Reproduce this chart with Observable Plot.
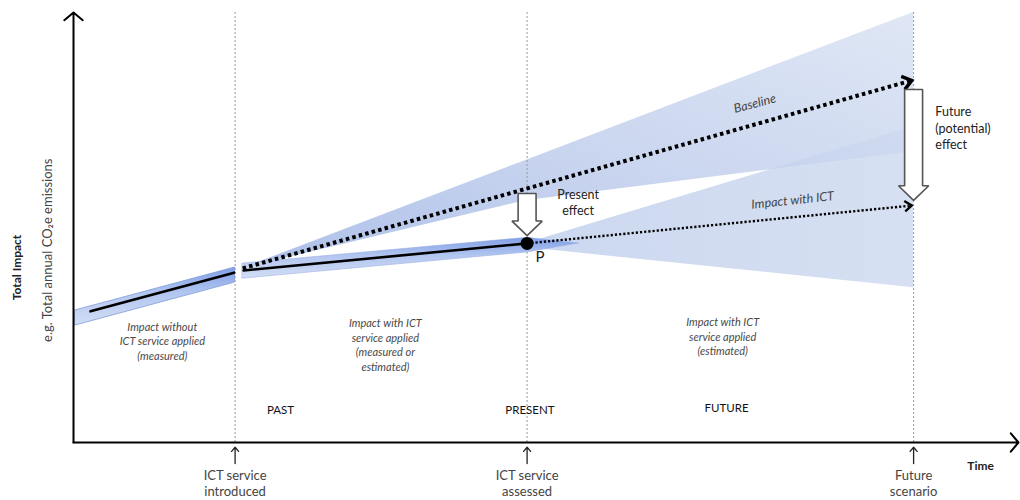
<!DOCTYPE html>
<html>
<head>
<meta charset="utf-8">
<script src="https://cdn.jsdelivr.net/npm/d3@7"></script>
<script src="https://cdn.jsdelivr.net/npm/@observablehq/plot@0.6"></script>
<style>
  html, body { margin: 0; padding: 0; background: #fff; }
  #chart svg { display: block; overflow: visible; }
</style>
</head>
<body>
<div id="chart"></div>
<script>
// ---- data (abstract units: time 0..100, impact 0..100) ----
const bandPast = [
  {t: 0.2, lo: 27.2, hi: 30.7},
  {t: 17.1, lo: 37.2, hi: 40.7}
];
const measuredPast = [
  {t: 1.8, v: 30.5},
  {t: 17.0, v: 39.5}
];
const bandPresent = [
  {t: 17.9, lo: 38.1, hi: 41.6},
  {t: 48.0, lo: 44.2, hi: 47.6},
  {t: 53.5, lo: 46.3, hi: 46.3}
];
const measuredPresent = [
  {t: 18.0, v: 40.0},
  {t: 48.0, v: 46.3}
];
const baselineCone = [
  {t: 17.9, lo: 40.5, hi: 40.5},
  {t: 48.0, lo: 56.3, hi: 65.7},
  {t: 74.8, lo: 63.7, hi: 88.2},
  {t: 88.9, lo: 67.7, hi: 100}
];
const ictCone = [
  {t: 48.9, lo: 45.1, hi: 47.0},
  {t: 88.9, lo: 36.0, hi: 73.5}
];
const baseline = [
  {t: 17.9, v: 40.5},
  {t: 88.7, v: 84.2}
];
const withICT = [
  {t: 48.0, v: 46.3},
  {t: 88.7, v: 55.1}
];
const pointP = [{t: 48.0, v: 46.3, label: "P"}];
const milestones = [
  {t: 17.1, label: "ICT service\nintroduced"},
  {t: 48.0, label: "ICT service\nassessed"},
  {t: 88.9, label: "Future\nscenario"}
];
const periods = [
  {t: 21.9, v: 7.4, label: "PAST"},
  {t: 48.3, v: 7.4, label: "PRESENT"},
  {t: 69.1, v: 7.9, label: "FUTURE"}
];
const notes = [
  {t: 9.4, v: 23.7, label: "Impact without\nICT service applied\n(measured)"},
  {t: 33.0, v: 22.8, label: "Impact with ICT\nservice applied\n(measured or\nestimated)"},
  {t: 68.7, v: 24.8, label: "Impact with ICT\nservice applied\n(estimated)"}
];
const effects = [
  {t: 48.0, from: 57.9, to: 48.1},
  {t: 88.9, from: 82.1, to: 56.3}
];
const effectLabels = [
  {t: 53.4, v: 56.0, label: "Present\neffect", anchor: "middle"},
  {t: 91.2, v: 73.3, label: "Future\n(potential)\neffect", anchor: "start"}
];
const lineLabels = [
  {t: 72.1, v: 78.8, label: "Baseline", angle: -15},
  {t: 76.1, v: 56.3, label: "Impact with ICT", angle: -6}
];

// ---- layout ----
const W = 1020, H = 500, ML = 73, MR = 2, MT = 12, MB = 58;
const pxX = (W - ML - MR) / 100, pxY = (H - MT - MB) / 100;

// ---- derived shapes ----
const SW = 0.95, HW = 1.6, HL = 3.4;
const blockArrows = effects.flatMap((d, i) => {
  const hs = d.to + HL;
  return [
    [d.t - SW, d.from], [d.t + SW, d.from], [d.t + SW, hs], [d.t + HW, hs],
    [d.t, d.to], [d.t - HW, hs], [d.t - SW, hs]
  ].map(([t, v]) => ({t, v, id: i}));
});
function headOf(series) {
  const a = series[series.length - 2], b = series[series.length - 1];
  const ang = Math.atan2(-(b.v - a.v) * pxY, (b.t - a.t) * pxX) * 180 / Math.PI;
  return [{t: b.t, v: b.v, angle: ang}];
}
const chevron = {
  draw(ctx, size) {
    const s = Math.sqrt(size / Math.PI);
    ctx.moveTo(-s, -s * 0.75);
    ctx.lineTo(0, 0);
    ctx.lineTo(-s, s * 0.75);
  }
};

const font = "Lato, 'Open Sans', sans-serif";

const plot = Plot.plot({
  width: W,
  height: H,
  marginLeft: ML,
  marginRight: MR,
  marginTop: MT,
  marginBottom: MB,
  x: {domain: [0, 100], axis: null},
  y: {domain: [0, 100], axis: null},
  style: {fontFamily: font, background: "white"},
  marks: [
    // uncertainty cones
    Plot.areaY(ictCone, {x: "t", y1: "lo", y2: "hi", fill: "url(#gIct)"}),
    Plot.areaY(baselineCone, {x: "t", y1: "lo", y2: "hi", fill: "url(#gBase)", fillOpacity: 0.85}),
    // vertical dashed milestone lines
    Plot.ruleX(milestones, {x: "t", y1: 0, y2: 100, stroke: "#9a9a9a", strokeWidth: 1, strokeDasharray: "2,2"}),
    // measured bands
    Plot.areaY(bandPast, {x: "t", y1: "lo", y2: "hi", fill: "url(#gBand)", stroke: "#7f9bd8", strokeWidth: 0.8}),
    Plot.areaY(bandPresent, {x: "t", y1: "lo", y2: "hi", fill: "url(#gBand)", stroke: "#9cb2e2", strokeWidth: 0.6}),
    // measured lines
    Plot.line(measuredPast, {x: "t", y: "v", stroke: "black", strokeWidth: 2.6}),
    Plot.line(measuredPresent, {x: "t", y: "v", stroke: "black", strokeWidth: 2.6}),
    // projected dotted lines
    Plot.line(baseline, {x: "t", y: "v", stroke: "black", strokeWidth: 4, strokeDasharray: "3.5,3.2", strokeLinecap: "butt"}),
    Plot.dot(headOf(baseline), {x: "t", y: "v", rotate: "angle", symbol: chevron, r: 9, fill: "none", stroke: "black", strokeWidth: 3.5, strokeLinejoin: "miter"}),
    Plot.line(withICT, {x: "t", y: "v", stroke: "black", strokeWidth: 2.4, strokeDasharray: "2.2,2", strokeLinecap: "butt"}),
    Plot.dot(headOf(withICT), {x: "t", y: "v", rotate: "angle", symbol: chevron, r: 7, fill: "none", stroke: "black", strokeWidth: 2.4, strokeLinejoin: "miter"}),
    // point P
    Plot.dot(pointP, {x: "t", y: "v", r: 6.5, fill: "black"}),
    Plot.text(pointP, {x: "t", y: "v", text: "label", dx: 13, dy: 14, fontSize: 15, fill: "#222"}),
    // block arrows (effects)
    Plot.line(blockArrows, {x: "t", y: "v", z: "id", curve: "linear-closed", fill: "white", stroke: "#555", strokeWidth: 1.6, strokeLinejoin: "miter"}),
    Plot.text(effectLabels, {x: "t", y: "v", text: "label", textAnchor: "middle", fontSize: 12.5, fill: "#222", lineHeight: 1.3, filter: d => d.anchor === "middle"}),
    Plot.text(effectLabels, {x: "t", y: "v", text: "label", textAnchor: "start", fontSize: 12.5, fill: "#222", lineHeight: 1.3, filter: d => d.anchor === "start"}),
    // line labels
    Plot.text(lineLabels, {x: "t", y: "v", text: "label", rotate: "angle", fontSize: 12.5, fontStyle: "italic", fill: "#444"}),
    // notes
    Plot.text(notes, {x: "t", y: "v", text: "label", fontSize: 11, fontStyle: "italic", fill: "#4a4a4a", lineHeight: 1.32}),
    Plot.text(periods, {x: "t", y: "v", text: "label", fontSize: 11.5, fill: "#111"}),
    // axes with arrow heads
    Plot.arrow([{x1: 0, y1: 0, x2: 0, y2: 100}], {x1: "x1", y1: "y1", x2: "x2", y2: "y2", stroke: "black", strokeWidth: 2, headLength: 9, headAngle: 100}),
    Plot.arrow([{x1: 0, y1: 0, x2: 100, y2: 0}], {x1: "x1", y1: "y1", x2: "x2", y2: "y2", stroke: "black", strokeWidth: 2, headLength: 9, headAngle: 100}),
    // milestone ticks below axis
    Plot.arrow(milestones, {x1: "t", x2: "t", y1: -4.9, y2: -1.1, stroke: "#222", strokeWidth: 1.3, headLength: 7, headAngle: 80}),
    Plot.text(milestones, {x: "t", y: -9.3, text: "label", fontSize: 13, fill: "#444", lineHeight: 1.25}),
    Plot.text(["Time"], {x: 96.0, y: -5.6, text: d => d, fontSize: 12, fontWeight: "bold", fill: "#222"}),
    // y axis labels
    Plot.text(["Total Impact"], {x: -6.0, y: 40.7, text: d => d, rotate: -90, fontSize: 12, fontWeight: "bold", fill: "#222"}),
    Plot.text(["e.g. Total annual CO\u2082e emissions"], {x: -2.75, y: 44.7, text: d => d, rotate: -90, fontSize: 13, fill: "#444"})
  ]
});

// gradients
const svg = d3.select(plot);
const defs = svg.insert("defs", ":first-child");
function grad(id, x1, y1, x2, y2, stops) {
  const g = defs.append("linearGradient").attr("id", id)
    .attr("x1", x1).attr("y1", y1).attr("x2", x2).attr("y2", y2);
  stops.forEach(([o, c]) => g.append("stop").attr("offset", o).attr("stop-color", c));
}
grad("gBase", "0", "1", "1", "0", [[0, "#9fb5e6"], [0.45, "#bfcdec"], [1, "#dae3f3"]]);
grad("gIct", "0", "0.5", "1", "0.5", [[0, "#ccd8f0"], [1, "#d6e0f2"]]);
grad("gBand", "0", "0", "0", "1", [[0, "#7f9ee6"], [0.45, "#b3c6f0"], [1, "#d3def5"]]);

document.getElementById("chart").appendChild(plot);
</script>
</body>
</html>
